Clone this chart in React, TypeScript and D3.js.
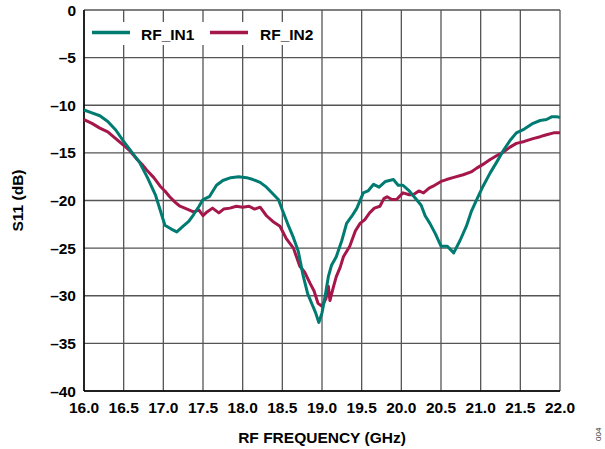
import React from "react";
import * as d3 from "d3";

const in1Freq = [16.0,16.1,16.2,16.3,16.4,16.5,16.6,16.7,16.8,16.9,16.96,17.02,17.1,17.17,17.25,17.32,17.38,17.45,17.5,17.58,17.67,17.75,17.85,17.95,18.05,18.13,18.22,18.3,18.38,18.45,18.51,18.57,18.64,18.7,18.76,18.82,18.88,18.92,18.96,19.0,19.04,19.08,19.12,19.18,19.25,19.31,19.38,19.44,19.52,19.58,19.65,19.72,19.8,19.9,19.96,20.02,20.1,20.19,20.25,20.3,20.36,20.43,20.5,20.58,20.66,20.74,20.82,20.88,20.95,21.03,21.12,21.2,21.29,21.37,21.45,21.55,21.66,21.75,21.83,21.9,21.96,22.0];
const in1Vals = [-10.5,-10.8,-11.1,-11.7,-12.6,-13.8,-14.9,-16.0,-17.6,-19.4,-21.0,-22.6,-23.0,-23.3,-22.7,-22.2,-21.5,-20.6,-19.9,-19.6,-18.4,-17.9,-17.6,-17.5,-17.6,-17.8,-18.1,-18.6,-19.3,-19.9,-21.2,-22.5,-23.9,-25.3,-27.8,-29.8,-31.0,-31.8,-32.8,-31.8,-30.0,-28.0,-26.8,-25.9,-24.2,-22.4,-21.6,-20.8,-19.2,-19.0,-18.3,-18.6,-18.0,-17.8,-18.4,-18.4,-19.0,-19.9,-20.5,-21.6,-22.4,-23.5,-24.8,-24.8,-25.5,-24.2,-22.7,-21.2,-19.9,-18.5,-17.1,-16.0,-14.7,-13.7,-12.9,-12.5,-11.9,-11.6,-11.5,-11.2,-11.2,-11.3];

const in2Freq = [16.0,16.1,16.2,16.3,16.37,16.5,16.58,16.66,16.73,16.79,16.88,16.96,17.02,17.08,17.15,17.21,17.3,17.38,17.45,17.5,17.55,17.62,17.7,17.76,17.84,17.92,18.0,18.08,18.15,18.22,18.3,18.38,18.47,18.55,18.64,18.72,18.78,18.85,18.9,18.95,19.0,19.05,19.08,19.1,19.14,19.18,19.23,19.27,19.35,19.42,19.48,19.54,19.6,19.66,19.73,19.78,19.82,19.88,19.94,20.02,20.1,20.15,20.22,20.28,20.35,20.4,20.5,20.57,20.65,20.78,20.88,20.95,21.05,21.12,21.2,21.29,21.37,21.45,21.55,21.66,21.75,21.83,21.92,22.0];
const in2Vals = [-11.5,-11.9,-12.4,-12.8,-13.3,-14.2,-14.8,-15.6,-16.2,-16.8,-17.6,-18.5,-19.0,-19.6,-20.2,-20.6,-20.9,-21.2,-21.0,-21.6,-21.2,-20.8,-21.3,-20.9,-20.8,-20.6,-20.7,-20.6,-20.9,-20.7,-21.6,-22.2,-22.7,-24.0,-25.0,-26.9,-27.5,-28.7,-29.5,-30.8,-31.1,-30.3,-29.0,-30.5,-29.2,-28.0,-27.0,-25.9,-24.8,-23.2,-22.4,-22.0,-21.3,-20.8,-20.6,-19.8,-19.6,-19.9,-19.9,-19.2,-19.4,-19.4,-19.0,-19.2,-18.7,-18.5,-18.0,-17.8,-17.6,-17.3,-17.0,-16.6,-16.1,-15.7,-15.3,-14.9,-14.4,-14.0,-13.8,-13.5,-13.3,-13.1,-12.9,-12.9];

const xTicks = [16.0,16.5,17.0,17.5,18.0,18.5,19.0,19.5,20.0,20.5,21.0,21.5,22.0];
const yTicks = [0,-5,-10,-15,-20,-25,-30,-35,-40];

const seriesNames = ["RF_IN1", "RF_IN2"];
const colors = ["#007b72", "#a5174b"];

export default function App() {
  const W = 605, H = 449;
  const left = 84, right = 560, top = 10, bottom = 391;
  const x = d3.scaleLinear().domain([16, 22]).range([left, right]);
  const y = d3.scaleLinear().domain([0, -40]).range([top, bottom]);
  const line = d3.line<[number, number]>().x(d => x(d[0])).y(d => y(d[1]));
  const s1 = in1Freq.map((f, i) => [f, in1Vals[i]] as [number, number]);
  const s2 = in2Freq.map((f, i) => [f, in2Vals[i]] as [number, number]);
  const font = "'Liberation Sans', Arial, sans-serif";
  const fs = 15.5;
  const fmtY = (v: number) => (v < 0 ? "\u2013" + Math.abs(v) : String(v));
  return (
    <svg width={W} height={H} style={{ position: "absolute", left: 0, top: 0, background: "#fff" }} fontFamily={font}>
      <rect x={0} y={0} width={W} height={H} fill="#fff" />
      {xTicks.map(t => (
        <line key={"gx" + t} x1={x(t)} x2={x(t)} y1={top} y2={bottom} stroke="#555" strokeWidth={1.3} />
      ))}
      {yTicks.map(t => (
        <line key={"gy" + t} x1={left} x2={right} y1={y(t)} y2={y(t)} stroke="#555" strokeWidth={1.3} />
      ))}
      <line x1={left} x2={left} y1={top} y2={bottom} stroke="#000" strokeWidth={1.5} />
      <line x1={left} x2={right} y1={bottom} y2={bottom} stroke="#000" strokeWidth={1.5} />
      <rect x={88} y={22} width={230} height={23} fill="#fff" />
      <path d={line(s2) || ""} fill="none" stroke={colors[1]} strokeWidth={3} strokeLinejoin="round" />
      <path d={line(s1) || ""} fill="none" stroke={colors[0]} strokeWidth={3} strokeLinejoin="round" />
      {yTicks.map(t => (
        <text key={"ty" + t} x={left - 8} y={y(t) + 5.5} textAnchor="end" fontSize={fs} fontWeight="bold">{fmtY(t)}</text>
      ))}
      {xTicks.map(t => (
        <text key={"tx" + t} x={x(t)} y={413} textAnchor="middle" fontSize={fs} fontWeight="bold">{t.toFixed(1)}</text>
      ))}
      <text x={(left + right) / 2} y={443} textAnchor="middle" fontSize={fs} fontWeight="bold">RF FREQUENCY (GHz)</text>
      <text transform={`translate(23, ${(top + bottom) / 2}) rotate(-90)`} textAnchor="middle" fontSize={fs} fontWeight="bold">S11 (dB)</text>
      <text transform="translate(601, 441) rotate(-90)" fontSize={8} fill="#333">004</text>
      {seriesNames.map((n, i) => (
        <g key={n}>
          <line x1={92 + i * 118} x2={130 + i * 118} y1={32.5} y2={32.5} stroke={colors[i]} strokeWidth={3.5} />
          <text x={141 + i * 119} y={40} fontSize={fs} fontWeight="bold">{n}</text>
        </g>
      ))}
    </svg>
  );
}
